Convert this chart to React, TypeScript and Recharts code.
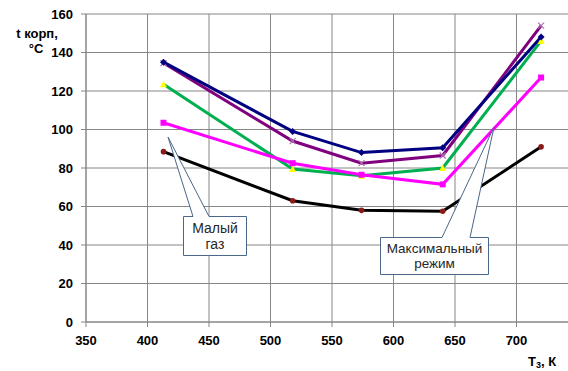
import { LineChart, Line, XAxis, YAxis, CartesianGrid } from 'recharts';

const temps = [413, 518, 574, 640, 720];
const navySeries = [135, 99, 88, 90.5, 148];
const purpleSeries = [134.5, 94, 82.5, 86.5, 154];
const greenSeries = [123.5, 79.5, 76, 80, 146];
const magentaSeries = [103.5, 82.5, 76.5, 71.5, 127];
const blackSeries = [88.5, 63, 58, 57.5, 91];

const xTicks = [350, 400, 450, 500, 550, 600, 650, 700];
const yTicks = [0, 20, 40, 60, 80, 100, 120, 140, 160];

const data = temps.map((t, i) => ({
  t,
  navy: navySeries[i],
  purple: purpleSeries[i],
  green: greenSeries[i],
  magenta: magentaSeries[i],
  black: blackSeries[i],
}));

const GRID = '#868686';
const font = 'Arial, "Liberation Sans", sans-serif';
const calloutStroke = '#4a6688';

const circleDot = (color: string) => (p: any) => (
  <circle key={p.index} cx={p.cx} cy={p.cy} r={2.8} fill={color} />
);
const squareDot = (color: string) => (p: any) => (
  <rect key={p.index} x={p.cx - 3} y={p.cy - 3} width={6} height={6} fill={color} />
);
const triDot = (color: string) => (p: any) => (
  <polygon key={p.index} points={`${p.cx},${p.cy - 3.5} ${p.cx + 3.5},${p.cy + 3} ${p.cx - 3.5},${p.cy + 3}`} fill={color} />
);
const diamondDot = (color: string) => (p: any) => (
  <polygon key={p.index} points={`${p.cx},${p.cy - 3.5} ${p.cx + 3.5},${p.cy} ${p.cx},${p.cy + 3.5} ${p.cx - 3.5},${p.cy}`} fill={color} />
);
const crossDot = (color: string) => (p: any) => (
  <g key={p.index} stroke={color} strokeWidth={1.2}>
    <line x1={p.cx - 3} y1={p.cy - 3} x2={p.cx + 3} y2={p.cy + 3} />
    <line x1={p.cx - 3} y1={p.cy + 3} x2={p.cx + 3} y2={p.cy - 3} />
  </g>
);

const tickStyle = { fill: '#000', fontSize: 13, fontWeight: 700, fontFamily: font };

export default function App() {
  return (
    <div style={{ position: 'absolute', left: 0, top: 0, width: 568, height: 371, overflow: 'hidden', background: '#fff' }}>
      <LineChart width={578} height={371} data={data} margin={{ top: 14, right: 0, bottom: 19, left: 0 }}>
        <CartesianGrid stroke={GRID} strokeWidth={1} verticalPoints={undefined} />
        <XAxis
          dataKey="t"
          type="number"
          domain={[350, 750]}
          ticks={xTicks}
          height={30}
          tickSize={5}
          tickMargin={9}
          tick={tickStyle}
          axisLine={{ stroke: GRID }}
          tickLine={{ stroke: GRID }}
          interval={0}
        />
        <YAxis
          domain={[0, 160]}
          ticks={yTicks}
          width={86}
          tickSize={5}
          tickMargin={8}
          tick={tickStyle}
          axisLine={{ stroke: GRID }}
          tickLine={{ stroke: GRID }}
          interval={0}
        />
        <Line type="linear" dataKey="black" stroke="#000000" strokeWidth={3} dot={circleDot('#8b1a1a')} isAnimationActive={false} />
        <Line type="linear" dataKey="green" stroke="#00b050" strokeWidth={3} dot={triDot('#ffff00')} isAnimationActive={false} />
        <Line type="linear" dataKey="magenta" stroke="#ff00ff" strokeWidth={3} dot={squareDot('#ff00ff')} isAnimationActive={false} />
        <Line type="linear" dataKey="purple" stroke="#800080" strokeWidth={3} dot={crossDot('#b070b0')} isAnimationActive={false} />
        <Line type="linear" dataKey="navy" stroke="#000080" strokeWidth={3} dot={diamondDot('#000080')} isAnimationActive={false} />
      </LineChart>
      <svg width={568} height={371} style={{ position: 'absolute', left: 0, top: 0, pointerEvents: 'none' }}>
        <g fontFamily={font} fontWeight={700} fontSize={13} fill="#000" textAnchor="middle">
          <text x={37} y={38}>t корп,</text>
          <text x={36} y={53}>°C</text>
        </g>
        <text x={528} y={366} fontFamily={font} fontWeight={700} fontSize={13} fill="#000">
          Т<tspan fontSize={9} dy={2}>3</tspan><tspan dy={-2}>, К</tspan>
        </text>
        <path
          d="M183.5,216.5 L193,216.5 L168,137 L209,216.5 L246.5,216.5 L246.5,255.5 L183.5,255.5 Z"
          fill="#fff"
          stroke={calloutStroke}
          strokeWidth={1}
        />
        <g fontFamily={font} fontSize={14} fill="#262626" textAnchor="middle">
          <text x={215} y={233}>Малый</text>
          <text x={215} y={249}>газ</text>
        </g>
        <path
          d="M380.5,237.5 L442,237.5 L494,127 L470,237.5 L488.5,237.5 L488.5,274.5 L380.5,274.5 Z"
          fill="#fff"
          stroke={calloutStroke}
          strokeWidth={1}
        />
        <g fontFamily={font} fontSize={13.5} fill="#262626" textAnchor="middle">
          <text x={434.5} y={253}>Максимальный</text>
          <text x={434.5} y={268}>режим</text>
        </g>
      </svg>
    </div>
  );
}
